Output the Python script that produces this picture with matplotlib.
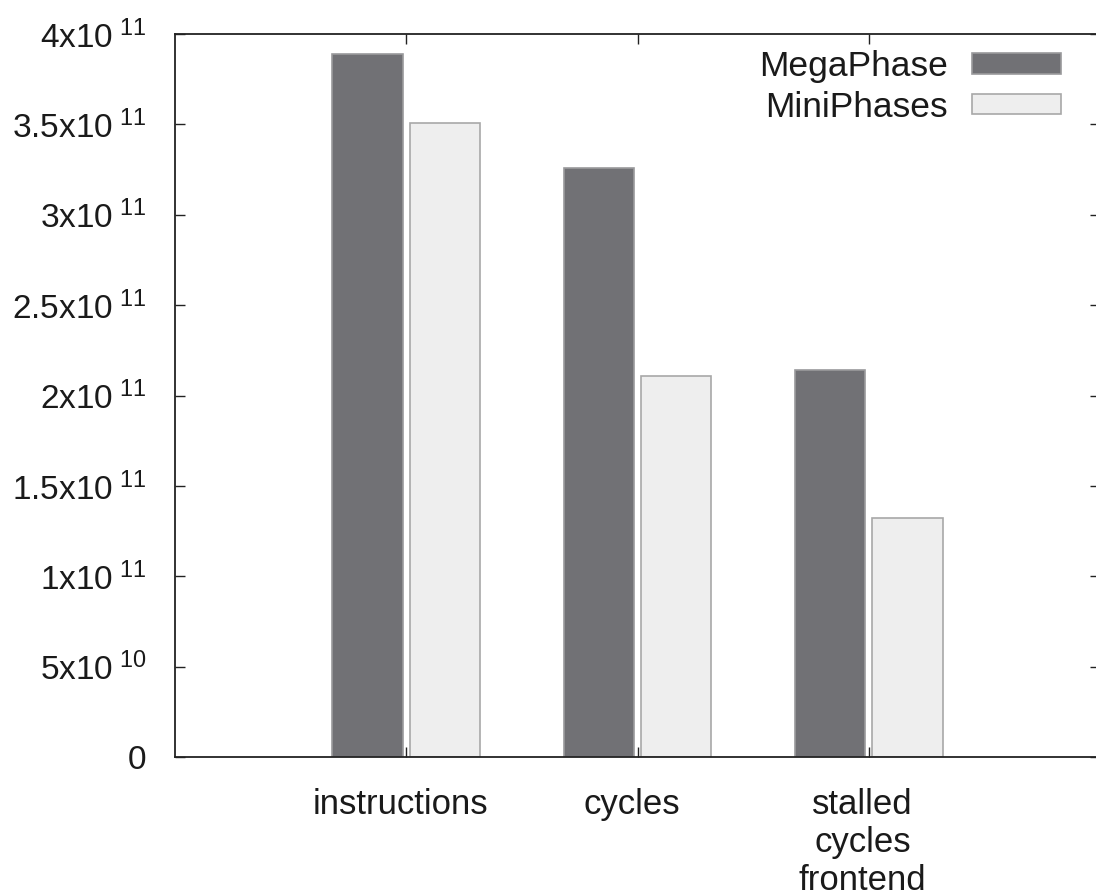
#!/usr/bin/env python3
import numpy as np
import matplotlib
matplotlib.use("Agg")
import matplotlib.pyplot as plt
from matplotlib.transforms import ScaledTranslation

# values
categories = ["instructions", "cycles", "stalled\ncycles\nfrontend"]
megaphase = [3.89e11, 3.26e11, 2.14e11]
miniphases = [3.51e11, 2.11e11, 1.32e11]
series_names = ["MegaPhase", "MiniPhases"]
ytick_values = [0, 0.5e11, 1e11, 1.5e11, 2e11, 2.5e11, 3e11, 3.5e11, 4e11]
ytick_labels = [r"$\mathregular{0}$",
                r"$\mathregular{5x10^{\ 10}}$",
                r"$\mathregular{1x10^{\ 11}}$",
                r"$\mathregular{1.5x10^{\ 11}}$",
                r"$\mathregular{2x10^{\ 11}}$",
                r"$\mathregular{2.5x10^{\ 11}}$",
                r"$\mathregular{3x10^{\ 11}}$",
                r"$\mathregular{3.5x10^{\ 11}}$",
                r"$\mathregular{4x10^{\ 11}}$"]


def main():
    plt.rcParams['font.family'] = ['Liberation Sans', 'DejaVu Sans']
    plt.rcParams['mathtext.fontset'] = 'custom'
    plt.rcParams['mathtext.rm'] = 'Liberation Sans'
    plt.rcParams['mathtext.it'] = 'Liberation Sans:italic'
    plt.rcParams['mathtext.bf'] = 'Liberation Sans:bold'

    fig = plt.figure(figsize=(10.96, 8.93), dpi=100)
    # gnuplot-like frame, right border falls just outside the picture
    ax = fig.add_axes([175 / 1096, 1 - 757 / 893, (1100 - 175) / 1096, (757 - 34) / 893])

    x = np.arange(len(categories))
    width = 0.305
    ax.bar(x - 0.167, megaphase, width, color='#717175', edgecolor='#9a9a9c',
           linewidth=1.2, label=series_names[0])
    ax.bar(x + 0.167, miniphases, width, color='#eeeeee', edgecolor='#a8a8a8',
           linewidth=1.2, label=series_names[1])

    ax.set_xlim(-1, 3)
    ax.set_ylim(0, 4e11)
    ax.set_xticks(x)
    ax.set_xticklabels(categories, fontsize=25, linespacing=1.2)
    ax.set_yticks(ytick_values)
    ax.set_yticklabels(ytick_labels, fontsize=24)

    for side in ['left', 'top', 'bottom', 'right']:
        ax.spines[side].set_linewidth(1.3)
        ax.spines[side].set_color('#222222')
    ax.tick_params(axis='y', which='both', direction='in', length=7, width=1.0,
                   left=True, right=True, pad=21, colors='#222222', labelcolor='#1a1a1a')
    ax.tick_params(axis='x', which='both', direction='in', length=7, width=1.0,
                   bottom=True, top=True, pad=22, colors='#222222', labelcolor='#1a1a1a')
    # gnuplot centres the labels a touch to the left
    shift = ScaledTranslation(-6 / 100, 0, fig.dpi_scale_trans)
    for lbl in ax.get_xticklabels():
        lbl.set_transform(lbl.get_transform() + shift)

    leg = ax.legend(loc='upper right', bbox_to_anchor=(1061 / 1096, 1 - 50 / 893),
                    bbox_transform=fig.transFigure, frameon=False, markerfirst=False,
                    fontsize=25.5, handlelength=2.5, handleheight=0.5,
                    handletextpad=0.7, labelspacing=0.22, borderpad=0, borderaxespad=0)
    for t in leg.get_texts():
        t.set_color('#1a1a1a')

    plt.savefig("out.png", dpi=100)


if __name__ == "__main__":
    main()
